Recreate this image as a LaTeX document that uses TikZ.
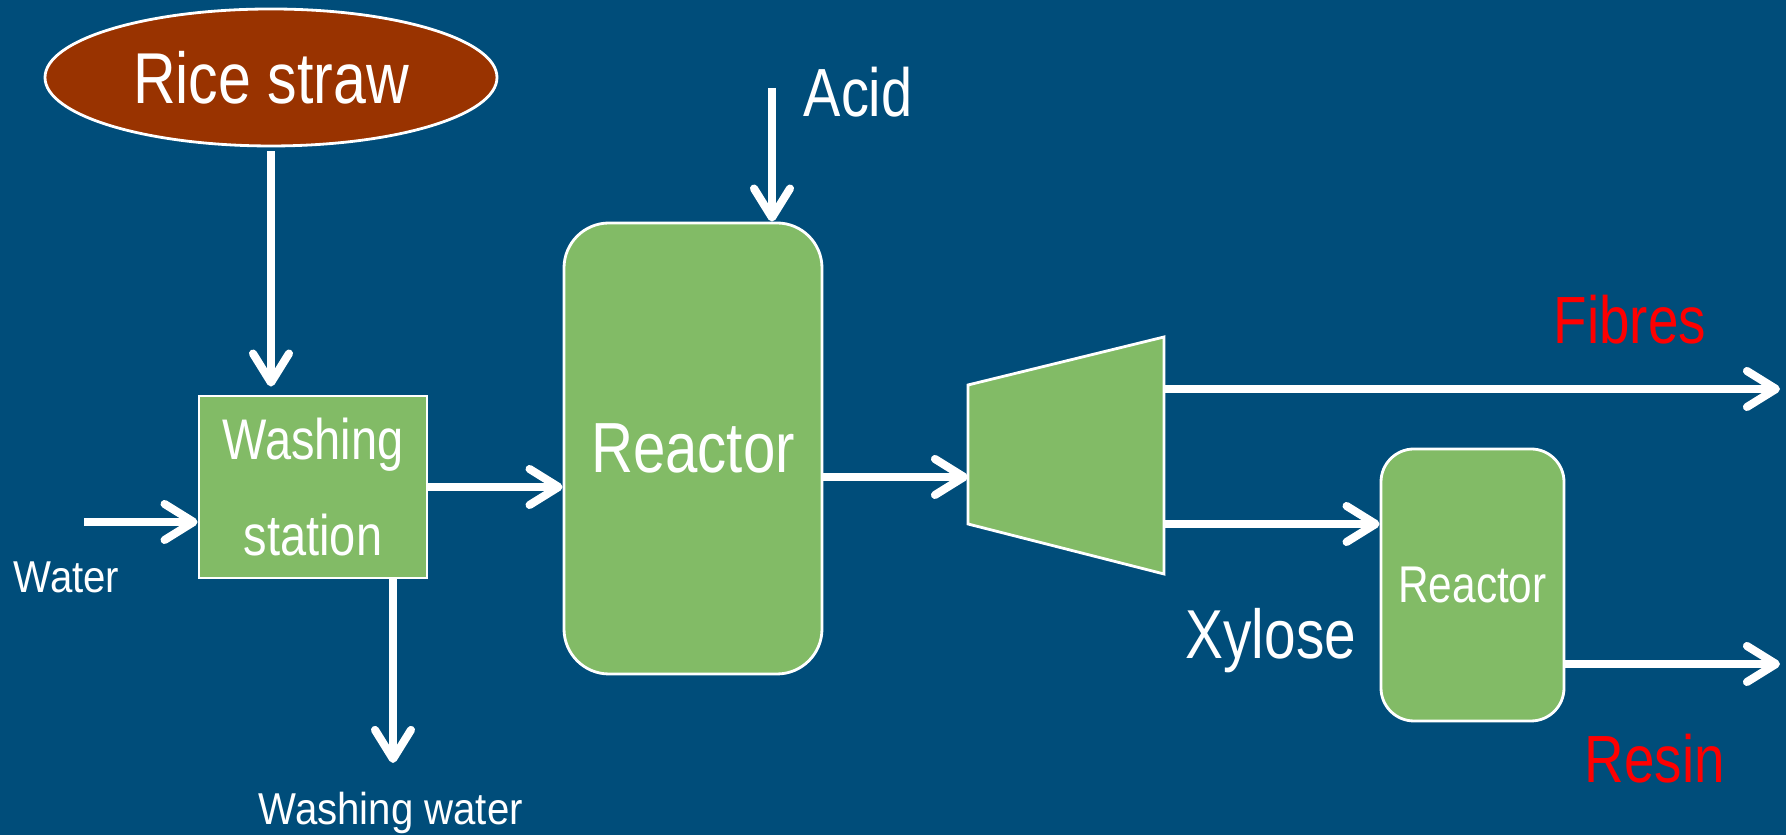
\documentclass[tikz,border=0pt]{standalone}
\usepackage{fontspec}
\setmainfont[FakeStretch=0.82]{Liberation Sans}
\newfontfamily\widersans[FakeStretch=0.9]{Liberation Sans}
\usetikzlibrary{arrows.meta,shapes.geometric}
\definecolor{bgblue}{HTML}{004D7A}
\definecolor{boxgreen}{HTML}{82BB66}
\definecolor{strawbrown}{HTML}{993300}
\begin{document}
\begin{tikzpicture}[
    flow/.style={white, line width=2.3pt, -{Straight Barb[length=2.9mm,width=3.6mm,round]}},
    unit/.style={draw=white, line width=0.8pt, fill=boxgreen, text=white, inner sep=0pt},
    lbl/.style={white, anchor=base west, inner sep=0pt},
    prod/.style={red, anchor=base west, inner sep=0pt, font=\fontsize{19}{23}\selectfont}]
    \fill[bgblue] (0,0) rectangle (17.86,8.35);
    % Feed and washing
    \node[unit, ellipse, fill=strawbrown, minimum width=4.52cm, minimum height=1.37cm,
          font=\fontsize{20.5}{24}\selectfont] (straw) at (2.71,7.575) {Rice straw};
    \node[unit, minimum width=2.28cm, minimum height=1.82cm, align=center,
          font=\fontsize{16.3}{27.3}\selectfont] (wash) at (3.13,3.48) {Washing\\station};
    \node[lbl, font=\widersans\fontsize{12.7}{15}\selectfont] (water) at (0.13,2.42) {Water};
    \node[lbl, font=\widersans\fontsize{12.7}{15}\selectfont] (wwater) at (2.58,0.10) {Washing water};
    % Acid reactor
    \node[unit, rounded corners=0.45cm, minimum width=2.58cm, minimum height=4.51cm,
          font=\fontsize{20.2}{24}\selectfont] (reac1) at (6.93,3.865) {Reactor};
    \node[lbl, font=\fontsize{19.4}{23}\selectfont] (acid) at (8.03,7.18) {Acid};
    % Separator
    \draw[white, line width=0.8pt, fill=boxgreen] (9.68,4.50) -- (11.64,4.98) -- (11.64,2.61) -- (9.68,3.11) -- cycle;
    \coordinate (sepR) at (11.64,3.80);
    % Second reactor
    \node[unit, rounded corners=0.33cm, minimum width=1.83cm, minimum height=2.72cm,
          font=\fontsize{14.7}{18}\selectfont] (reac2) at (14.725,2.50) {Reactor};
    \node[lbl, font=\fontsize{19.7}{23}\selectfont] (xylose) at (11.85,1.76) {Xylose};
    \node[prod] (fibres) at (15.53,4.91) {Fibres};
    \node[prod] (resin) at (15.84,0.52) {Resin};
    % Streams
    \coordinate (water in) at (0.84,3.13);
    \coordinate (ww out) at (3.93,0.72);
    \coordinate (acid in) at (7.72,7.47);
    \coordinate (sep in) at (9.68,3.58);
    \coordinate (fib out) at (17.80,4.46);
    \coordinate (xyl) at (11.64,3.11);
    \coordinate (res out) at (17.80,1.71);
    \draw[flow, shorten <=0.04cm, shorten >=0.08cm] (straw.south) -- (straw.south |- wash.north);
    \draw[flow] (water in) -- (water in -| wash.west);
    \draw[flow] (wash.east) -- (wash.east -| reac1.west);
    \draw[flow] (ww out |- wash.south) -- (ww out);
    \draw[flow] (acid in) -- (acid in |- reac1.north);
    \draw[flow] (sep in -| reac1.east) -- (sep in);
    \draw[flow] (fib out -| sepR) -- (fib out);
    \draw[flow] (xyl) -- (xyl -| reac2.west);
    \draw[flow] (res out -| reac2.east) -- (res out);
\end{tikzpicture}
\end{document}
